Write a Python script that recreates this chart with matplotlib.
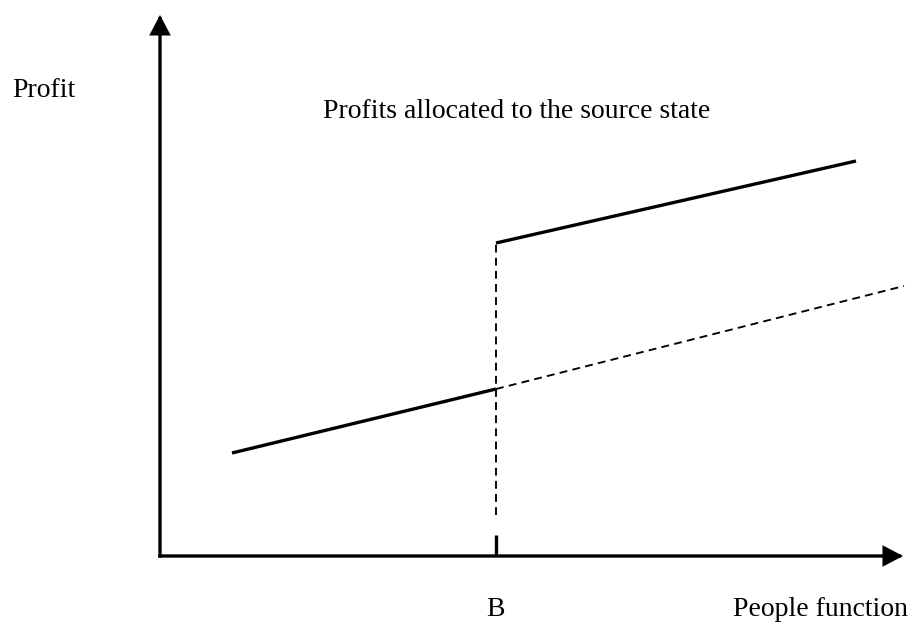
import matplotlib
matplotlib.use("Agg")
import matplotlib.pyplot as plt
from matplotlib.patches import FancyArrowPatch

# Conceptual diagram values (arbitrary units, origin at axes crossing)
B = 336
lower_x = [72, B]          # profits before threshold B (solid)
lower_y = [103, 167]
cont_x = [B, 744]           # hypothetical continuation (dashed)
cont_y = [167, 270]
upper_x = [B, 696]          # profits allocated after B (solid)
upper_y = [313, 395]
vdash_y = [41, 313]         # dashed vertical at B
tick_y = [0, 21]            # solid tick at B on the x axis

x_max = 743
y_max = 541

title_text = "Profits allocated to the source state"
y_label = "Profit"
x_label = "People function"
b_label = "B"

fig = plt.figure(figsize=(9.10, 6.23), dpi=100)
ax = fig.add_axes([0, 0, 1, 1])
ax.set_xlim(-160, 750)
ax.set_ylim(-67, 556)
ax.axis("off")

serif = ["Liberation Serif", "DejaVu Serif"]
lw_solid = 2.4
lw_dash = 1.35
dash = (0, (4.2, 2.8))

# axes with arrowheads
arrow_style = "-|>,head_length=11,head_width=5.8"
for (x0, y0, x1, y1) in [(0, 0, x_max, 0), (0, 0, 0, y_max)]:
    ax.add_patch(FancyArrowPatch((x0, y0), (x1, y1), arrowstyle=arrow_style,
                                 mutation_scale=1, lw=lw_solid, color="black",
                                 shrinkA=0, shrinkB=0, capstyle="projecting",
                                 joinstyle="miter"))

# curves
ax.plot(lower_x, lower_y, color="black", lw=lw_solid, solid_capstyle="butt")
ax.plot(upper_x, upper_y, color="black", lw=lw_solid, solid_capstyle="butt")
ax.plot(cont_x, cont_y, color="black", lw=lw_dash, linestyle=dash)
ax.plot([B, B], vdash_y, color="black", lw=lw_dash, linestyle=dash)
ax.plot([B, B], tick_y, color="black", lw=lw_solid, solid_capstyle="butt")

# labels
ax.text(-148, 459, y_label, family=serif, fontsize=20, va="baseline", ha="left")
ax.text(163, 438, title_text, family=serif, fontsize=20, va="baseline", ha="left")
ax.text(B - 1, -60, b_label, family=serif, fontsize=20, va="baseline", ha="center")
ax.text(748, -60, x_label, family=serif, fontsize=20, va="baseline", ha="right")

fig.savefig("out.png", dpi=100)
